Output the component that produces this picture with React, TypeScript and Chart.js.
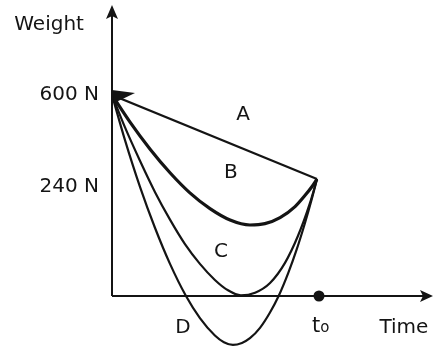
import React, { useEffect, useRef } from 'react';
import { Chart, registerables } from 'chart.js';

Chart.register(...registerables);

// Time in units of t0, weight in newtons (schematic)
const curveATime = [0, 1];
const curveAWeight = [600, 349];

const curveBTime = [0, 0.088, 0.185, 0.283, 0.38, 0.478, 0.576, 0.673, 0.746, 0.82, 0.893, 0.941, 0.976, 1];
const curveBWeight = [600, 519, 439, 368, 308, 261, 227, 212, 216, 234, 267, 300, 327, 349];

const curveCTime = [0, 0.063, 0.137, 0.21, 0.283, 0.356, 0.429, 0.502, 0.566, 0.629, 0.698, 0.771, 0.844, 0.907, 0.966, 1];
const curveCWeight = [600, 504, 403, 310, 228, 155, 96, 48, 17, 2, 10, 39, 99, 179, 278, 349];

const curveDTime = [0, 0.063, 0.137, 0.21, 0.283, 0.361, 0.429, 0.502, 0.546, 0.59, 0.634, 0.673, 0.722, 0.77, 0.813, 0.86, 0.901, 0.94, 0.974, 1];
const curveDWeight = [600, 466, 325, 203, 96, 0, -66, -118, -138, -146, -140, -126, -95, -50, 0, 69, 139, 215, 288, 349];

const curveNames = ['A', 'B', 'C', 'D'];
const curveNameTime = [0.639, 0.58, 0.532, 0.346];
const curveNameWeight = [525, 352, 116, -110];

const yTickValues = [600, 327];
const yTickLabels = ['600 N', '240 N'];

const t0Value = 1;
const yAxisTitle = 'Weight';
const xAxisTitle = 'Time';
const t0Label = ['t', 'o'];

const X_MIN = 0;
const X_MAX = 1.566;
const Y_MIN = -152.2;
const Y_MAX = 883.6;

const INK = '#141414';
const FONT = 'DejaVu Sans';

const toPoints = (xs: number[], ys: number[]) => xs.map((x, i) => ({ x, y: ys[i] }));

const diagramPlugin = {
  id: 'diagram',
  beforeDraw(chart: any) {
    const { ctx, width, height } = chart;
    ctx.save();
    ctx.fillStyle = '#ffffff';
    ctx.fillRect(0, 0, width, height);
    ctx.restore();
  },
  beforeDatasetsDraw(chart: any) {
    const { ctx } = chart;
    const xs = chart.scales.x;
    const ys = chart.scales.y;
    const ox = xs.getPixelForValue(0);
    const oy = ys.getPixelForValue(0);
    ctx.save();
    ctx.strokeStyle = INK;
    ctx.fillStyle = INK;
    ctx.lineWidth = 2;
    // y axis
    ctx.beginPath();
    ctx.moveTo(ox, oy);
    ctx.lineTo(ox, 12);
    ctx.stroke();
    ctx.beginPath();
    ctx.moveTo(ox, 5);
    ctx.lineTo(ox - 6, 19);
    ctx.lineTo(ox, 16);
    ctx.lineTo(ox + 6, 19);
    ctx.closePath();
    ctx.fill();
    // x axis
    const right = chart.width;
    ctx.beginPath();
    ctx.moveTo(ox, oy);
    ctx.lineTo(right - 6, oy);
    ctx.stroke();
    ctx.beginPath();
    ctx.moveTo(right, oy);
    ctx.lineTo(right - 13, oy - 6);
    ctx.lineTo(right - 10, oy);
    ctx.lineTo(right - 13, oy + 6);
    ctx.closePath();
    ctx.fill();
    ctx.restore();
  },
  afterDatasetsDraw(chart: any) {
    const { ctx } = chart;
    const xs = chart.scales.x;
    const ys = chart.scales.y;
    ctx.save();
    ctx.fillStyle = INK;
    // wedge at the start point
    const sx = xs.getPixelForValue(curveATime[0]);
    const sy = ys.getPixelForValue(curveAWeight[0]);
    ctx.beginPath();
    ctx.moveTo(sx, sy - 5);
    ctx.lineTo(sx + 23, sy - 2);
    ctx.lineTo(sx + 2, sy + 8);
    ctx.closePath();
    ctx.fill();
    // t0 dot
    const tx = xs.getPixelForValue(t0Value);
    const ty = ys.getPixelForValue(0);
    ctx.beginPath();
    ctx.arc(tx + 2, ty, 5.5, 0, Math.PI * 2);
    ctx.fill();
    // curve names
    ctx.font = `20px "${FONT}"`;
    ctx.textAlign = 'center';
    ctx.textBaseline = 'alphabetic';
    curveNames.forEach((n, i) => {
      ctx.fillText(n, xs.getPixelForValue(curveNameTime[i]), ys.getPixelForValue(curveNameWeight[i]));
    });
    // axis titles
    ctx.fillText(yAxisTitle, xs.getPixelForValue(-0.307), ys.getPixelForValue(795));
    ctx.fillText(xAxisTitle, xs.getPixelForValue(1.424), ys.getPixelForValue(-110));
    // t0 label
    ctx.textAlign = 'left';
    const lbY = ys.getPixelForValue(-108);
    ctx.font = `21px "${FONT}"`;
    const tW = ctx.measureText(t0Label[0]).width;
    ctx.fillText(t0Label[0], tx - 5, lbY);
    ctx.font = `15px "${FONT}"`;
    ctx.fillText(t0Label[1], tx - 5 + tW, lbY);
    ctx.restore();
  },
};

export default function App() {
  const canvasRef = useRef<HTMLCanvasElement | null>(null);

  useEffect(() => {
    if (!canvasRef.current) return;
    const line = (xs: number[], ys: number[], w: number, smooth: boolean) => ({
      data: toPoints(xs, ys),
      borderColor: INK,
      borderWidth: w,
      pointRadius: 0,
      fill: false,
      cubicInterpolationMode: smooth ? ('monotone' as const) : ('default' as const),
      tension: 0,
    });
    const chart = new Chart(canvasRef.current, {
      type: 'line',
      data: {
        datasets: [
          { ...line(curveATime, curveAWeight, 2.2, false), label: 'A' },
          { ...line(curveBTime, curveBWeight, 3.2, true), label: 'B' },
          { ...line(curveCTime, curveCWeight, 2.2, true), label: 'C' },
          { ...line(curveDTime, curveDWeight, 2.2, true), label: 'D' },
        ],
      },
      options: {
        animation: false,
        responsive: false,
        devicePixelRatio: 1,
        layout: { padding: 0 },
        plugins: { legend: { display: false }, tooltip: { enabled: false } },
        scales: {
          x: { type: 'linear', min: X_MIN, max: X_MAX, display: false },
          y: {
            type: 'linear',
            min: Y_MIN,
            max: Y_MAX,
            grid: { display: false, drawTicks: false },
            border: { display: false },
            afterBuildTicks: (s: any) => {
              s.ticks = yTickValues.map((v) => ({ value: v }));
            },
            afterFit: (s: any) => {
              s.width = 112;
              s.paddingTop = 0;
              s.paddingBottom = 0;
            },
            ticks: {
              autoSkip: false,
              padding: 13,
              color: INK,
              font: { size: 20, family: FONT },
              callback: (_v: any, i: number) => yTickLabels[i],
            },
          },
        },
      },
      plugins: [diagramPlugin],
    });
    return () => chart.destroy();
  }, []);

  return (
    <div style={{ position: 'fixed', left: 0, top: 0, width: 433, height: 347, background: '#fff' }}>
      <canvas ref={canvasRef} width={433} height={347} style={{ display: 'block' }} />
    </div>
  );
}
